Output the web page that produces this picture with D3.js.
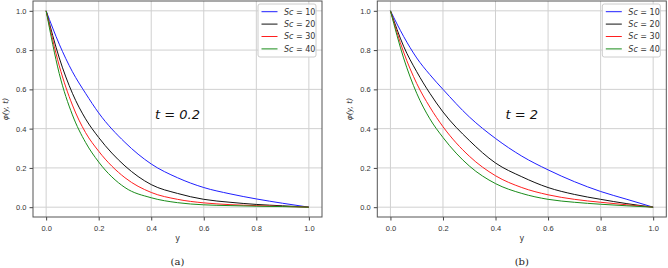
<!DOCTYPE html>
<html>
<head>
<meta charset="utf-8">
<script src="https://cdn.jsdelivr.net/npm/d3@7"></script>
<style>
  body { margin: 0; background: #fff; }
  svg { display: block; font-family: "DejaVu Sans", sans-serif; }
</style>
</head>
<body>
<div id="svganchor"></div>
<script>
let width = 668;
let height = 268;

// values
let yGrid = [0, 0.05, 0.1, 0.15, 0.2, 0.3, 0.4, 0.5, 0.6, 0.7, 0.8, 0.9, 1.0];
let scLabels = ["10", "20", "30", "40"];
let seriesColors = ["#1f1fff", "#111111", "#ff1f1f", "#1a8c1a"];
let ticks = [0, 0.2, 0.4, 0.6, 0.8, 1.0];

// panel (a), t = 0.2
let phiA10 = [1, 0.83, 0.69, 0.58, 0.48, 0.33, 0.22, 0.15, 0.10, 0.068, 0.042, 0.02, 0];
let phiA20 = [1, 0.76, 0.58, 0.45, 0.355, 0.21, 0.115, 0.07, 0.04, 0.025, 0.014, 0.007, 0];
let phiA30 = [1, 0.72, 0.52, 0.38, 0.285, 0.15, 0.075, 0.04, 0.022, 0.013, 0.008, 0.004, 0];
let phiA40 = [1, 0.68, 0.47, 0.33, 0.23, 0.10, 0.048, 0.023, 0.012, 0.008, 0.005, 0.003, 0];

// panel (b), t = 2
let phiB10 = [1, 0.87, 0.76, 0.675, 0.60, 0.46, 0.35, 0.26, 0.19, 0.13, 0.08, 0.04, 0];
let phiB20 = [1, 0.82, 0.69, 0.58, 0.485, 0.34, 0.225, 0.155, 0.10, 0.065, 0.04, 0.018, 0];
let phiB30 = [1, 0.79, 0.63, 0.51, 0.41, 0.26, 0.16, 0.10, 0.063, 0.04, 0.025, 0.012, 0];
let phiB40 = [1, 0.76, 0.58, 0.45, 0.355, 0.21, 0.12, 0.07, 0.04, 0.025, 0.015, 0.007, 0];

let svg = d3.select("#svganchor").append("svg").attr("width", width).attr("height", height);

function drawPanel(offsetX, boxLeft, boxRight, series, tText, caption) {
  let top = 1, bottom = 217;
  let g = svg.append("g").attr("transform", "translate(" + offsetX + ",0)");

  // x data range is -0.05 .. 1.05 like matplotlib's margins
  let xScale = d3.scaleLinear().domain([-0.05, 1.05]).range([boxLeft, boxRight]);
  let yScale = d3.scaleLinear().domain([-0.05, 1.05]).range([bottom, top]);

  // grid
  g.append("g").selectAll("line").data(ticks).enter().append("line")
    .attr("x1", d => xScale(d)).attr("x2", d => xScale(d))
    .attr("y1", top).attr("y2", bottom)
    .attr("stroke", "#d0d0d0").attr("stroke-width", 1);
  g.append("g").selectAll("line").data(ticks).enter().append("line")
    .attr("x1", boxLeft).attr("x2", boxRight)
    .attr("y1", d => yScale(d)).attr("y2", d => yScale(d))
    .attr("stroke", "#d0d0d0").attr("stroke-width", 1);

  // axes
  let xAxis = d3.axisBottom(xScale).tickValues(ticks).tickFormat(d3.format(".1f")).tickSize(3.5).tickSizeOuter(0);
  let yAxis = d3.axisLeft(yScale).tickValues(ticks).tickFormat(d3.format(".1f")).tickSize(3.5).tickSizeOuter(0);
  g.append("g").attr("transform", "translate(0," + bottom + ")").call(xAxis)
    .call(s => s.select(".domain").remove())
    .call(s => s.selectAll("text").attr("font-size", 7.5).attr("fill", "#333").attr("dy", "0.95em"))
    .call(s => s.selectAll("line").attr("stroke", "#444"));
  g.append("g").attr("transform", "translate(" + boxLeft + ",0)").call(yAxis)
    .call(s => s.select(".domain").remove())
    .call(s => s.selectAll("text").attr("font-size", 7.5).attr("fill", "#333"))
    .call(s => s.selectAll("line").attr("stroke", "#444"));

  // curves
  let line = d3.line()
    .x((d, i) => xScale(yGrid[i]))
    .y(d => yScale(d))
    .curve(d3.curveMonotoneX);
  series.forEach(function (vals, i) {
    g.append("path").datum(vals)
      .attr("d", line)
      .attr("fill", "none")
      .attr("stroke", seriesColors[i])
      .attr("stroke-width", 1);
  });

  // frame
  g.append("rect")
    .attr("x", boxLeft).attr("y", top)
    .attr("width", boxRight - boxLeft).attr("height", bottom - top)
    .attr("fill", "none").attr("stroke", "#555").attr("stroke-width", 1);

  // legend
  let lgX = boxRight - 64, lgY = 4;
  g.append("rect")
    .attr("x", lgX).attr("y", lgY).attr("width", 58).attr("height", 53)
    .attr("rx", 2).attr("fill", "#fff").attr("fill-opacity", 0.85)
    .attr("stroke", "#ccc").attr("stroke-width", 1);
  scLabels.forEach(function (lab, i) {
    let yy = lgY + 7.7 + i * 12.4;
    g.append("line")
      .attr("x1", lgX + 3.5).attr("x2", lgX + 19.5)
      .attr("y1", yy).attr("y2", yy)
      .attr("stroke", seriesColors[i]).attr("stroke-width", 1);
    let t = g.append("text").attr("x", lgX + 26).attr("y", yy).attr("dy", "0.35em")
      .attr("font-size", 8).attr("fill", "#333");
    t.append("tspan").attr("font-style", "italic").text("Sc");
    t.append("tspan").text(" = " + lab);
  });

  // axis labels
  g.append("text")
    .attr("x", (boxLeft + boxRight) / 2).attr("y", 241)
    .attr("text-anchor", "middle").attr("font-size", 8).attr("fill", "#333")
    .text("y");
  g.append("text")
    .attr("transform", "translate(" + (boxLeft - 25) + "," + yScale(0.5) + ") rotate(-90)")
    .attr("text-anchor", "middle").attr("font-size", 7.5).attr("fill", "#333")
    .attr("font-style", "italic")
    .text("φ(y, t)");

  // annotation
  g.append("text")
    .attr("x", xScale(0.5)).attr("y", yScale(0.45))
    .attr("text-anchor", "middle").attr("font-size", 13)
    .attr("font-style", "italic").attr("fill", "#111")
    .text(tText);

  // caption
  g.append("text")
    .attr("x", xScale(0.5)).attr("y", 265)
    .attr("text-anchor", "middle").attr("font-size", 10)
    .attr("font-family", "DejaVu Serif, serif").attr("fill", "#222")
    .text(caption);
}

drawPanel(0, 33, 322, [phiA10, phiA20, phiA30, phiA40], "t = 0.2", "(a)");
drawPanel(334, 43.3, 332.3, [phiB10, phiB20, phiB30, phiB40], "t = 2", "(b)");
</script>
</body>
</html>
